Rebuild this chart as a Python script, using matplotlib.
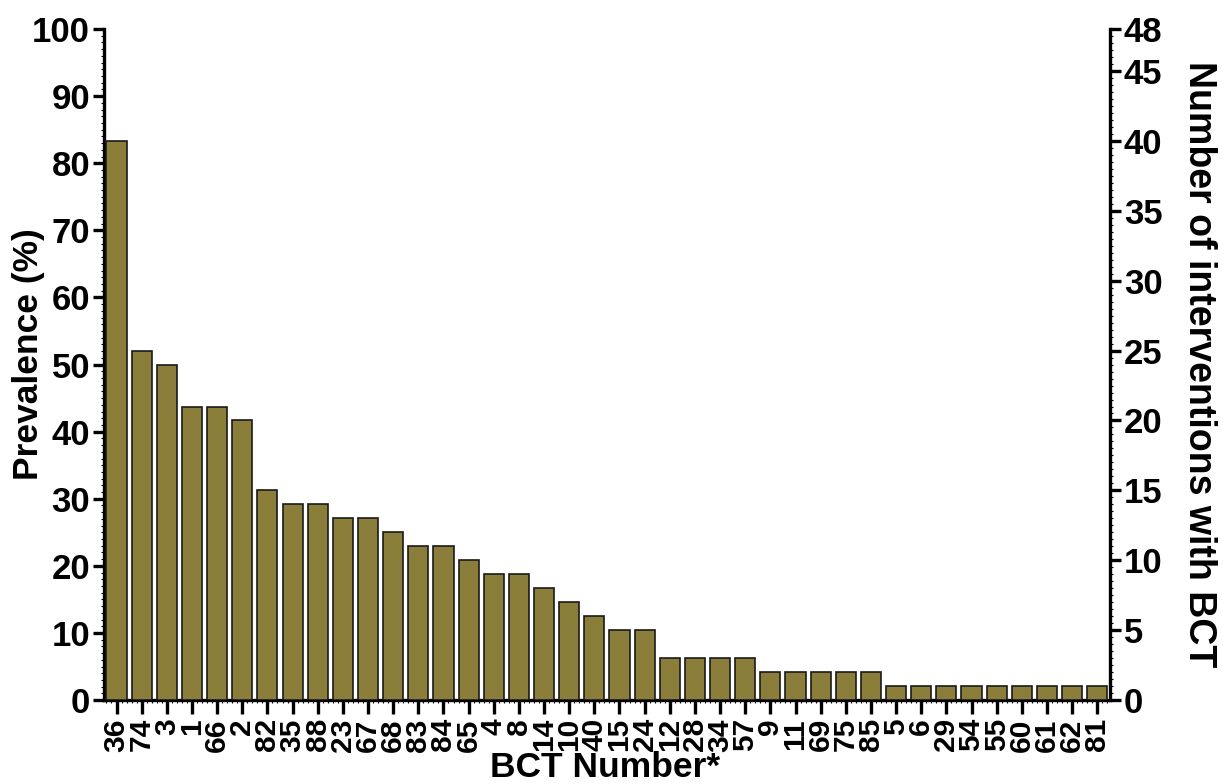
import matplotlib
matplotlib.use("Agg")
import matplotlib.pyplot as plt
from matplotlib.ticker import MultipleLocator, FixedLocator

plt.rcParams['font.family'] = ['Liberation Sans', 'DejaVu Sans']
plt.rcParams['font.weight'] = 'bold'

# BCT numbers ordered by frequency, and number of interventions using each
bct_labels = ["36", "74", "3", "1", "66", "2", "82", "35", "88", "23",
              "67", "68", "83", "84", "65", "4", "8", "14", "10", "40",
              "15", "24", "12", "28", "34", "57", "9", "11", "69", "75",
              "85", "5", "6", "29", "54", "55", "60", "61", "62", "81"]
n_interventions = [40, 25, 24, 21, 21, 20, 15, 14, 14, 13,
                   13, 12, 11, 11, 10, 9, 9, 8, 7, 6,
                   5, 5, 3, 3, 3, 3, 2, 2, 2, 2,
                   2, 1, 1, 1, 1, 1, 1, 1, 1, 1]
total_interventions = 48

left_ticks = list(range(0, 101, 10))
right_ticks = [0, 5, 10, 15, 20, 25, 30, 35, 40, 45, 48]

fig = plt.figure(figsize=(12.23, 7.84), dpi=100)
ax = fig.add_axes([0.085, 0.107, 0.8225, 0.856])
ax2 = ax.twinx()

x = list(range(len(bct_labels)))
ax2.bar(x, n_interventions, width=0.8, color='#8B7D3A',
        edgecolor='#1a1a1a', linewidth=1.2, zorder=3)

ax.set_xlim(-0.5, len(bct_labels) - 0.5)
ax.set_ylim(0, 100)
ax2.set_ylim(0, total_interventions)

ax.yaxis.set_major_locator(FixedLocator(left_ticks))
ax.yaxis.set_minor_locator(MultipleLocator(1))
ax2.yaxis.set_major_locator(FixedLocator(right_ticks))
ax2.yaxis.set_minor_locator(MultipleLocator(0.5))

ax.set_xticks(x)
ax.set_xticklabels(bct_labels, rotation=90, fontsize=21.5, fontweight='bold')
ax.xaxis.set_minor_locator(MultipleLocator(0.2))

for a in (ax, ax2):
    a.spines['top'].set_visible(False)
    for s in ('left', 'right', 'bottom'):
        a.spines[s].set_linewidth(2.4)
    a.tick_params(which='major', length=8, width=2.4, labelsize=25, pad=2)
    a.tick_params(which='minor', length=2.5, width=0.8)

ax.tick_params(axis='x', which='major', length=10, labelsize=21.5, pad=3)
ax.tick_params(axis='x', which='minor', length=2.5)
ax2.spines['left'].set_visible(False)
ax2.spines['bottom'].set_visible(False)
ax.spines['right'].set_visible(False)

for lab in ax.get_yticklabels() + ax2.get_yticklabels():
    lab.set_fontweight('bold')

ax.set_ylabel("Prevalence (%)", fontsize=25.5, fontweight='bold')
ax.yaxis.label.set_verticalalignment('center')
ax.yaxis.set_label_coords(-0.0755, 0.516)

ax.set_xlabel("BCT Number*", fontsize=25.5, fontweight='bold')
ax.xaxis.label.set_verticalalignment('center')
ax.xaxis.set_label_coords(0.498, -0.1)

ax2.set_ylabel("Number of interventions with BCT", fontsize=27,
               fontweight='bold', rotation=270)
ax2.yaxis.label.set_verticalalignment('center')
ax2.yaxis.set_label_coords(1.089, 0.5)

fig.savefig("out.png", dpi=100)
